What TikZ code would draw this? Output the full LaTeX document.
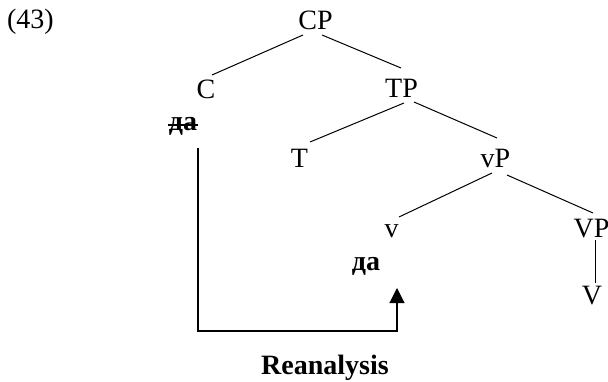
\documentclass[tikz,border=0pt]{standalone}
\usepackage{fontspec}
\setmainfont{Liberation Serif}
\usetikzlibrary{arrows.meta}
\begin{document}
\begin{tikzpicture}[x=1pt,y=-1pt,
  lbl/.style={anchor=base,inner sep=0pt,outer sep=0pt,font=\fontsize{28}{34}\selectfont},
  blbl/.style={lbl,font=\fontsize{28}{34}\selectfont\bfseries},
  branch/.style={line width=1pt},
  move/.style={line width=1.1pt,-{Triangle[length=15pt,width=15pt]}}]
\useasboundingbox (0,0) rectangle (608,382);
\node[lbl,anchor=base west] (n43) at (7,29) {(43)};
\node[lbl] (CP) at (315.5,29.5) {CP};
\node[lbl] (C) at (206,99) {C};
\node[lbl] (TP) at (401.5,98) {TP};
\node[blbl] (daS) at (183,131) {да};
\node[lbl] (T) at (299.5,168) {T};
\node[lbl] (vP) at (495.5,168) {vP};
\node[lbl] (v) at (391.5,238) {v};
\node[lbl] (VP) at (591.5,238) {VP};
\node[blbl] (da) at (366,270) {да};
\node[lbl] (V) at (592,305) {V};
\node[blbl] (re) at (325,374) {Reanalysis};
% strike-through
\draw[line width=1.6pt] ([shift={(-15,-6)}]daS.base) -- ([shift={(15,-6)}]daS.base);
% branches
\draw[branch] ([shift={(-12.5,5.5)}]CP.base) -- ([shift={(6,-24)}]C.base);
\draw[branch] ([shift={(6.5,5.5)}]CP.base) -- ([shift={(-0.5,-30)}]TP.base);
\draw[branch] ([shift={(2.5,5)}]TP.base) -- ([shift={(10.5,-26)}]T.base);
\draw[branch] ([shift={(12.5,4)}]TP.base) -- ([shift={(1.5,-30)}]vP.base);
\draw[branch] ([shift={(-3.5,5)}]vP.base) -- ([shift={(7.5,-21)}]v.base);
\draw[branch] ([shift={(11.5,7)}]vP.base) -- ([shift={(1.5,-25)}]VP.base);
\draw[branch] ([shift={(3.5,2)}]VP.base) -- ([shift={(3,-22)}]V.base);
% movement arrow
\draw[move] ([shift={(15,17)}]daS.base) -- ([shift={(15,200)}]daS.base) -| ([shift={(31,18)}]da.base);
\end{tikzpicture}
\end{document}
